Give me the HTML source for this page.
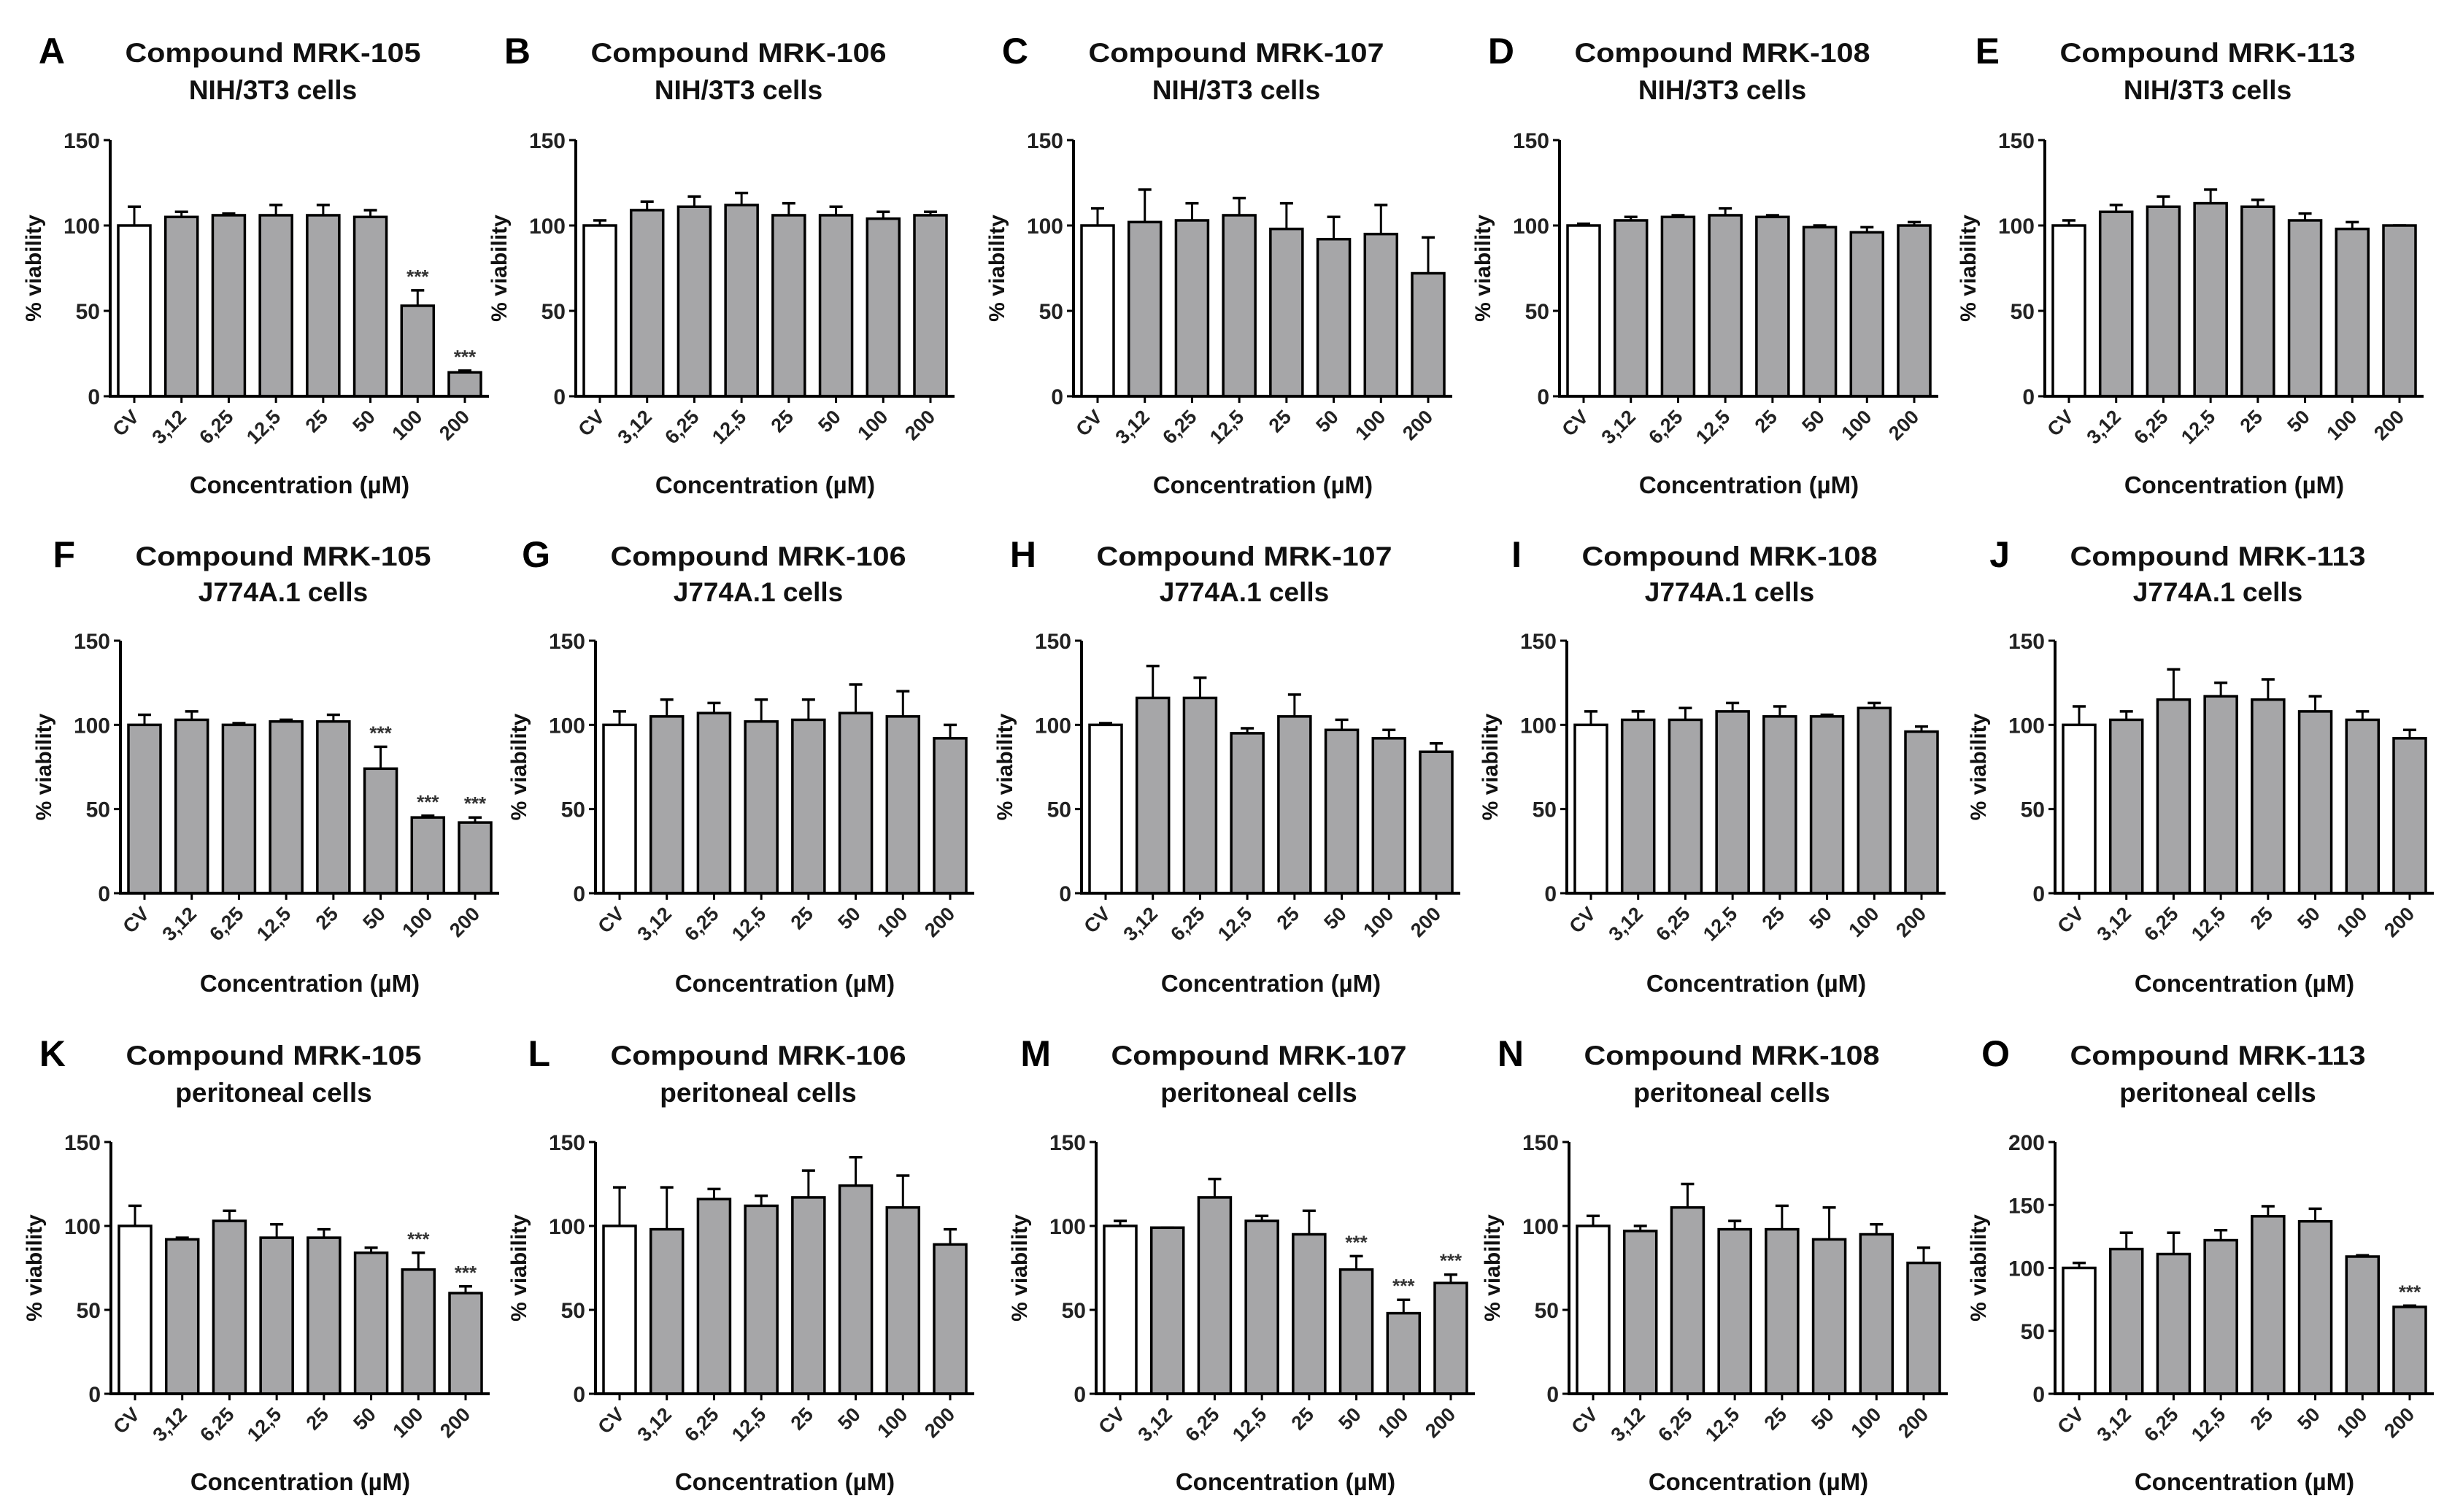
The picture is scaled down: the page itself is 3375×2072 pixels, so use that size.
<!DOCTYPE html>
<html><head><meta charset="utf-8"><style>
html,body{margin:0;padding:0;background:#fff;}
svg{display:block;font-family:"Liberation Sans",sans-serif;}
</style></head><body>
<svg id="fig" width="3375" height="2072" viewBox="0 0 3375 2072" xmlns="http://www.w3.org/2000/svg"></svg>
<script>
const categories = ["CV","3,12","6,25","12,5","25","50","100","200"];
const panelLetters = ["A","B","C","D","E","F","G","H","I","J","K","L","M","N","O"];
const compounds = ["MRK-105","MRK-106","MRK-107","MRK-108","MRK-113"];
const cellLines = ["NIH/3T3 cells","J774A.1 cells","peritoneal cells"];
const meanA=[100,105,106,106,106,105,53,14], errA=[111,108,107,112,112,109,62,15], sigA=[0,0,0,0,0,0,1,1];
const meanB=[100,109,111,112,106,106,104,106], errB=[103,114,117,119,113,111,108,108], sigB=[0,0,0,0,0,0,0,0];
const meanC=[100,102,103,106,98,92,95,72], errC=[110,121,113,116,113,105,112,93], sigC=[0,0,0,0,0,0,0,0];
const meanD=[100,103,105,106,105,99,96,100], errD=[101,105,106,110,106,100,99,102], sigD=[0,0,0,0,0,0,0,0];
const meanE=[100,108,111,113,111,103,98,100], errE=[103,112,117,121,115,107,102,100], sigE=[0,0,0,0,0,0,0,0];
const meanF=[100,103,100,102,102,74,45,42], errF=[106,108,101,103,106,87,46,45], sigF=[0,0,0,0,0,1,1,1];
const meanG=[100,105,107,102,103,107,105,92], errG=[108,115,113,115,115,124,120,100], sigG=[0,0,0,0,0,0,0,0];
const meanH=[100,116,116,95,105,97,92,84], errH=[101,135,128,98,118,103,97,89], sigH=[0,0,0,0,0,0,0,0];
const meanI=[100,103,103,108,105,105,110,96], errI=[108,108,110,113,111,106,113,99], sigI=[0,0,0,0,0,0,0,0];
const meanJ=[100,103,115,117,115,108,103,92], errJ=[111,108,133,125,127,117,108,97], sigJ=[0,0,0,0,0,0,0,0];
const meanK=[100,92,103,93,93,84,74,60], errK=[112,93,109,101,98,87,84,64], sigK=[0,0,0,0,0,0,1,1];
const meanL=[100,98,116,112,117,124,111,89], errL=[123,123,122,118,133,141,130,98], sigL=[0,0,0,0,0,0,0,0];
const meanM=[100,99,117,103,95,74,48,66], errM=[103,99,128,106,109,82,56,71], sigM=[0,0,0,0,0,1,1,1];
const meanN=[100,97,111,98,98,92,95,78], errN=[106,100,125,103,112,111,101,87], sigN=[0,0,0,0,0,0,0,0];
const meanO=[100,115,111,122,141,137,109,69], errO=[104,128,128,130,149,147,110,70], sigO=[0,0,0,0,0,0,0,1];
const yMaxes=[150,150,150,150,150,150,150,150,150,150,150,150,150,150,200];
const yTicks150=[0,50,100,150], yTicks200=[0,50,100,150,200];
const means=[meanA,meanB,meanC,meanD,meanE,meanF,meanG,meanH,meanI,meanJ,meanK,meanL,meanM,meanN,meanO];
const errs=[errA,errB,errC,errD,errE,errF,errG,errH,errI,errJ,errK,errL,errM,errN,errO];
const sigs=[sigA,sigB,sigC,sigD,sigE,sigF,sigG,sigH,sigI,sigJ,sigK,sigL,sigM,sigN,sigO];
const cvWhite=[1,1,1,1,1,0,1,1,1,1,1,1,1,1,1];

const NS="http://www.w3.org/2000/svg";
const svg=document.getElementById('fig');
function mk(tag,attrs,parent){const e=document.createElementNS(NS,tag);for(const k in attrs)e.setAttribute(k,attrs[k]);(parent||svg).appendChild(e);return e;}

const colX=[[151,789,1471,2137,2802],[165,816,1482,2147,2816],[152,816,1502,2150,2816]];
const rowTop=[192,878,1565], rowZero=[543,1224,1910];
const rowT1=[85,775,1459], rowT2=[136,824,1510], rowConc=[676,1359,2042];
const plotW=519;

for(let p=0;p<15;p++){
  const r=Math.floor(p/5), c=p%5;
  const ax=colX[r][c], top=rowTop[r], zero=rowZero[r];
  const g=mk('g',{});
  
  
  const yMax=yMaxes[p];
  const ys=v=>zero-(v/yMax)*(zero-top);
  const step=(plotW-66)/7;
  const xs=i=>ax+33+i*step;
  const bw=step*0.68;
  const tc=ax+223;
  // letter
  const L=mk('text',{x:ax-62,y:rowT1[r]+2,'font-size':50,'font-weight':'bold','text-anchor':'end',fill:'#000'},g);
  L.textContent=panelLetters[p];
  
  
  const t1=mk('text',{x:tc,y:rowT1[r],'font-size':37,'font-weight':'bold','text-anchor':'middle',fill:'#111',textLength:405,lengthAdjust:'spacingAndGlyphs'},g);
  t1.textContent='Compound '+compounds[c];
  
  
  const t2=mk('text',{x:tc,y:rowT2[r],'font-size':37,'font-weight':'bold','text-anchor':'middle',fill:'#111'},g);
  t2.textContent=cellLines[r];
  
  
  // y label
  const yl=mk('text',{x:0,y:0,'font-size':30,'font-weight':'bold','text-anchor':'middle',fill:'#111',transform:`translate(${ax-95},${(top+zero)/2}) rotate(-90)`},g);
  yl.textContent='% viability';
  
  
  // x label
  const xl=mk('text',{x:ax+plotW/2,y:rowConc[r],'font-size':33,'font-weight':'bold','text-anchor':'middle',fill:'#111'},g);
  xl.textContent='Concentration (µM)';
  
  
  // y ticks
  const ticks=yMax===200?yTicks200:yTicks150;
  ticks.forEach(v=>{
    mk('line',{x1:ax-9,x2:ax,y1:ys(v),y2:ys(v),stroke:'#000','stroke-width':3},g);
    const tl=mk('text',{x:ax-14,y:ys(v)+11,'font-size':30,'font-weight':'bold','text-anchor':'end',fill:'#222'},g);
    tl.textContent=v;
    
    
  });
  // bars
  means[p].forEach((m,i)=>{
    const x=xs(i), e=errs[p][i];
    mk('line',{x1:x,x2:x,y1:ys(m),y2:ys(e),stroke:'#000','stroke-width':3},g);
    mk('line',{x1:x-9,x2:x+9,y1:ys(e),y2:ys(e),stroke:'#000','stroke-width':3.5},g);
    const b=mk('rect',{x:x-bw/2,y:ys(m),width:bw,height:zero-ys(m),fill:(i===0&&cvWhite[p])?'#fff':'#a6a6a8',stroke:'#000','stroke-width':3.5},g);
    
    
    if(sigs[p][i]){
      const s=mk('text',{x:x,y:ys(e)-10,'font-size':26,'font-weight':'bold','text-anchor':'middle',fill:'#333'},g);
      s.textContent='***';
      
      
    }
    mk('line',{x1:x,x2:x,y1:zero,y2:zero+9,stroke:'#000','stroke-width':3},g);
    const xt=mk('text',{x:0,y:0,'font-size':27,'font-weight':'bold','text-anchor':'end',fill:'#222',transform:`translate(${x+8},${zero+30}) rotate(-45)`},g);
    xt.textContent=categories[i];
    
    
  });
  // axes
  mk('line',{x1:ax,x2:ax,y1:top,y2:zero+2,stroke:'#000','stroke-width':4},g);
  mk('line',{x1:ax-2,x2:ax+plotW,y1:zero,y2:zero,stroke:'#000','stroke-width':4},g);
}
</script>
</body></html>
